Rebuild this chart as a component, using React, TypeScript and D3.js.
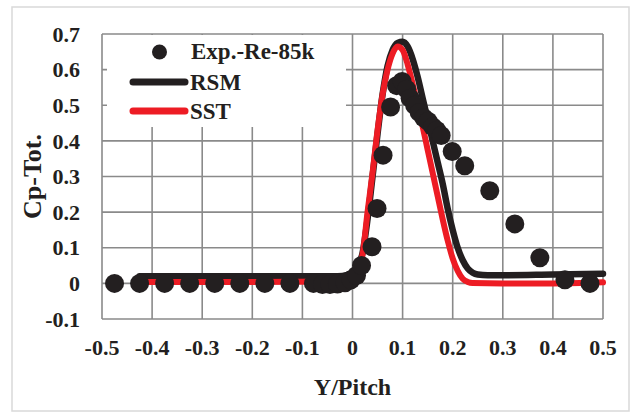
import React from "react";
import * as d3 from "d3";

const xTicks = [-0.5, -0.4, -0.3, -0.2, -0.1, 0, 0.1, 0.2, 0.3, 0.4, 0.5];
const yTicks = [-0.1, 0, 0.1, 0.2, 0.3, 0.4, 0.5, 0.6, 0.7];

const expX = [-0.475, -0.425, -0.375, -0.325, -0.275, -0.225, -0.175, -0.125, -0.078, -0.06, -0.045, -0.03, -0.015, -0.003, 0.008, 0.018, 0.039, 0.049, 0.061, 0.076, 0.088, 0.099, 0.108, 0.115, 0.124, 0.133, 0.142, 0.151, 0.16, 0.168, 0.177, 0.199, 0.224, 0.274, 0.324, 0.374, 0.424, 0.474];
const expY = [0, 0, 0, 0, 0, 0, 0, 0, 0, -0.003, -0.003, -0.002, 0.002, 0.01, 0.022, 0.05, 0.103, 0.21, 0.36, 0.495, 0.555, 0.567, 0.545, 0.52, 0.5, 0.48, 0.465, 0.455, 0.44, 0.43, 0.415, 0.37, 0.33, 0.26, 0.167, 0.072, 0.01, 0];

const rsmX = [-0.425, -0.3, -0.2, -0.1, -0.03, -0.01, 0.0, 0.01, 0.02, 0.03, 0.04, 0.05, 0.06, 0.07, 0.08, 0.09, 0.1, 0.11, 0.12, 0.13, 0.14, 0.15, 0.16, 0.17, 0.18, 0.19, 0.2, 0.21, 0.22, 0.23, 0.24, 0.25, 0.27, 0.3, 0.4, 0.5];
const rsmY = [0.02, 0.02, 0.02, 0.02, 0.02, 0.024, 0.03, 0.045, 0.085, 0.18, 0.3, 0.42, 0.53, 0.61, 0.655, 0.675, 0.678, 0.665, 0.63, 0.58, 0.52, 0.46, 0.4, 0.34, 0.28, 0.21, 0.15, 0.1, 0.065, 0.042, 0.03, 0.025, 0.023, 0.023, 0.025, 0.027];

const sstX = [-0.425, -0.2, -0.03, -0.01, 0.0, 0.01, 0.02, 0.03, 0.04, 0.05, 0.06, 0.07, 0.08, 0.09, 0.1, 0.11, 0.12, 0.13, 0.14, 0.15, 0.16, 0.17, 0.18, 0.19, 0.2, 0.21, 0.22, 0.23, 0.24, 0.3, 0.4, 0.5];
const sstY = [0.004, 0.004, 0.005, 0.01, 0.018, 0.035, 0.08, 0.2, 0.31, 0.43, 0.53, 0.6, 0.645, 0.665, 0.655, 0.615, 0.56, 0.5, 0.44, 0.375, 0.31, 0.245, 0.18, 0.12, 0.07, 0.035, 0.013, 0.004, 0.001, 0.0, 0.0, 0.003];

const legendLabels = ["Exp.-Re-85k", "RSM", "SST"];

const W = 631, H = 413;
const L = 102, R = 603, T = 34, B = 319;
const font = "'Liberation Serif', 'Times New Roman', serif";
const dark = "#231f20";
const red = "#ed1c24";
const grid = "#8a8a8a";

export default function App() {
  const x = d3.scaleLinear().domain([-0.5, 0.5]).range([L, R]);
  const y = d3.scaleLinear().domain([-0.1, 0.7]).range([B, T]);
  const line = d3.line<number>().curve(d3.curveMonotoneX);
  const rsmPath = line(rsmX.map((v, i) => [x(v), y(rsmY[i])] as any)) || "";
  const sstPath = line(sstX.map((v, i) => [x(v), y(sstY[i])] as any)) || "";
  const fmt = (v: number) => (Math.abs(v) < 1e-9 ? "0" : v.toFixed(1).replace("\u2212", "-"));

  return (
    <svg width={W} height={H} style={{ position: "absolute", left: 0, top: 0, background: "#fff" }}>
      <rect x={12} y={7} width={617} height={404} fill="#fff" stroke="#d9d9d9" strokeWidth={1.5} />
      {xTicks.map((t) => (
        <line key={"vx" + t} x1={x(t)} x2={x(t)} y1={T} y2={B} stroke={grid} strokeWidth={1.6} />
      ))}
      {yTicks.map((t) => (
        <line key={"hy" + t} x1={L} x2={R} y1={y(t)} y2={y(t)} stroke={grid} strokeWidth={1.6} />
      ))}
      <rect x={107} y={T + 1} width={239} height={127 - T - 1} fill="#fff" />
      <path d={rsmPath} fill="none" stroke={dark} strokeWidth={6.5} strokeLinecap="round" strokeLinejoin="round" />
      <path d={sstPath} fill="none" stroke={red} strokeWidth={6} strokeLinecap="round" strokeLinejoin="round" />
      {expX.map((v, i) => (
        <circle key={"e" + i} cx={x(v)} cy={y(expY[i])} r={9.5} fill={dark} />
      ))}
      {yTicks.map((t) => (
        <text key={"yl" + t} x={80} y={y(t)} dy="0.35em" textAnchor="end" fontFamily={font} fontWeight="bold" fontSize={22} fill={dark}>
          {fmt(t)}
        </text>
      ))}
      {xTicks.map((t) => (
        <text key={"xl" + t} x={x(t)} y={355} textAnchor="middle" fontFamily={font} fontWeight="bold" fontSize={22} fill={dark}>
          {fmt(t)}
        </text>
      ))}
      <text x={(L + R) / 2} y={395} textAnchor="middle" fontFamily={font} fontWeight="bold" fontSize={24} fill={dark}>
        Y/Pitch
      </text>
      <text transform={`translate(41,${(T + B) / 2}) rotate(-90)`} textAnchor="middle" fontFamily={font} fontWeight="bold" fontSize={26} fill={dark}>
        Cp-Tot.
      </text>
      <circle cx={159.5} cy={52} r={7.5} fill={dark} />
      <text x={191} y={59} fontFamily={font} fontWeight="bold" fontSize={23} fill={dark}>{legendLabels[0]}</text>
      <line x1={133} x2={185} y1={82} y2={82} stroke={dark} strokeWidth={7} strokeLinecap="round" />
      <text x={190} y={89.5} fontFamily={font} fontWeight="bold" fontSize={23} fill={dark}>{legendLabels[1]}</text>
      <line x1={133} x2={185} y1={111} y2={111} stroke={red} strokeWidth={7} strokeLinecap="round" />
      <text x={190} y={119} fontFamily={font} fontWeight="bold" fontSize={23} fill={dark}>{legendLabels[2]}</text>
    </svg>
  );
}
